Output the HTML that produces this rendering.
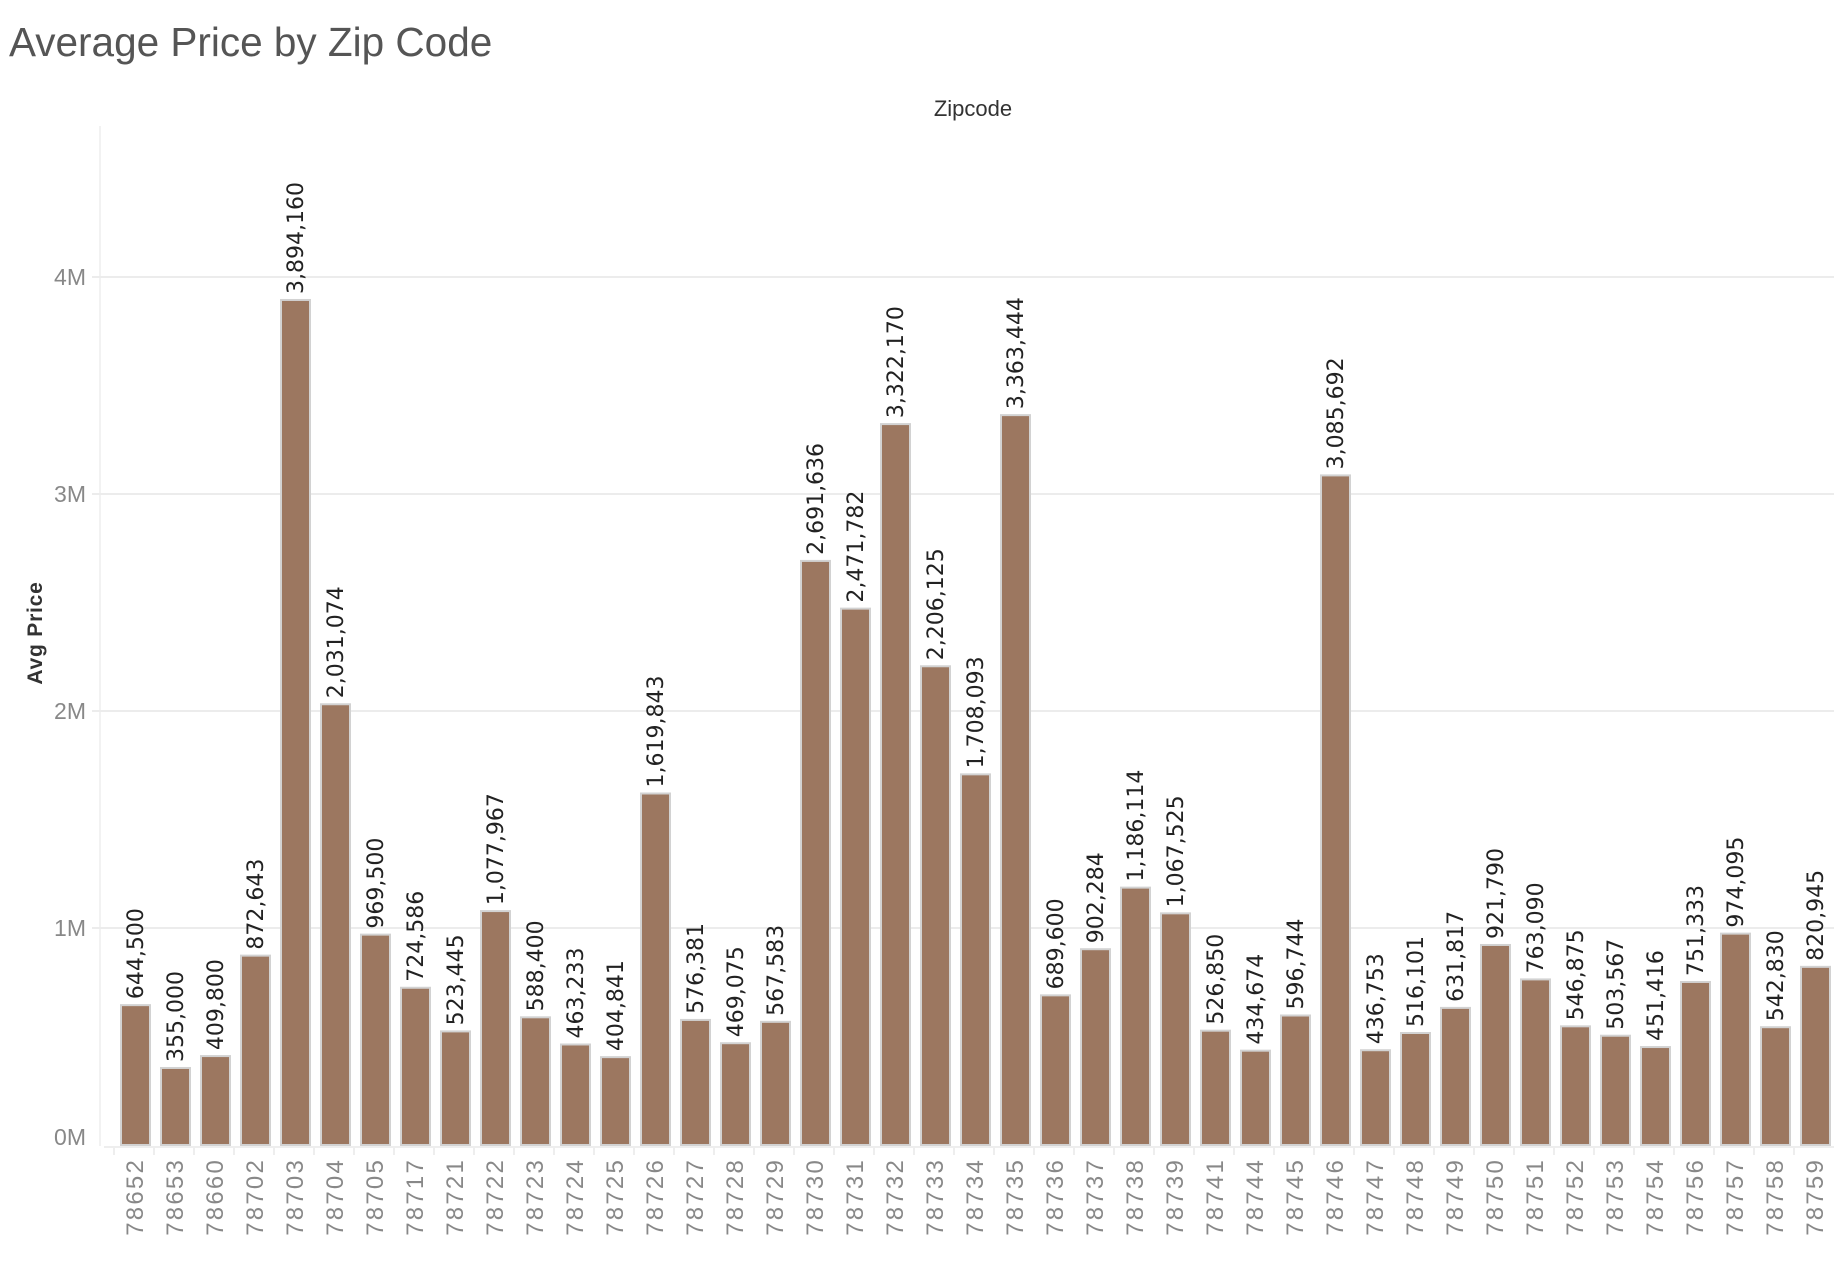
<!DOCTYPE html>
<html><head><meta charset="utf-8"><style>
html,body{margin:0;padding:0;background:#fff;}
svg{display:block;font-family:"Liberation Sans",sans-serif;}
</style></head><body>
<svg id="chart" width="1834" height="1266" viewBox="0 0 1834 1266">
<text x="9" y="56" font-size="40.5" fill="#555" font-weight="300">Average Price by Zip Code</text>
<text x="973" y="116" font-size="22" fill="#333" text-anchor="middle">Zipcode</text>
<text transform="translate(42,633) rotate(-90)" font-size="21" font-weight="bold" fill="#333" text-anchor="middle" letter-spacing="0.8">Avg Price</text>
<line x1="100" y1="126" x2="100" y2="1146" stroke="#eee" stroke-width="1.5"/>
<g id="grid"></g><g id="bars"></g><g id="xlabels"></g>
</svg>
<script>
const categories=["78652","78653","78660","78702","78703","78704","78705","78717","78721","78722","78723","78724","78725","78726","78727","78728","78729","78730","78731","78732","78733","78734","78735","78736","78737","78738","78739","78741","78744","78745","78746","78747","78748","78749","78750","78751","78752","78753","78754","78756","78757","78758","78759"];
const values=[644500,355000,409800,872643,3894160,2031074,969500,724586,523445,1077967,588400,463233,404841,1619843,576381,469075,567583,2691636,2471782,3322170,2206125,1708093,3363444,689600,902284,1186114,1067525,526850,434674,596744,3085692,436753,516101,631817,921790,763090,546875,503567,451416,751333,974095,542830,820945];
const tickValues=[0,1000000,2000000,3000000,4000000];
const tickLabels=["0M","1M","2M","3M","4M"];
const NS="http://www.w3.org/2000/svg";
const y0=1145, pxPerUnit=217/1000000, colStart=114, colW=40;
function yScale(v){return y0-v*pxPerUnit;}
function xScale(i){return colStart+i*colW;}
function mk(tag,attrs,parent){const e=document.createElementNS(NS,tag);for(const k in attrs)e.setAttribute(k,attrs[k]);parent.appendChild(e);return e;}
const grid=document.getElementById('grid'),bars=document.getElementById('bars'),xl=document.getElementById('xlabels');
tickValues.forEach((v,i)=>{
  const y=yScale(v);
  if(i>0){const g=mk('line',{x1:92,x2:1834,y1:y,y2:y,stroke:'#ececec','stroke-width':2},grid);
  
  }
  const t=mk('text',{x:86,y:(i===0?y-8:y)+8,'font-size':23,fill:'#888','text-anchor':'end'},grid);
  t.textContent=tickLabels[i];
  
  
});
const base=mk('line',{x1:104,x2:1834,y1:1147,y2:1147,stroke:'#eee','stroke-width':2},grid);


categories.forEach((c,i)=>{
  const x=xScale(i), v=values[i], top=yScale(v);
  const tk=mk('line',{x1:x,x2:x,y1:1147,y2:1155,stroke:'#eee','stroke-width':2},xl);
  
  
  const r=mk('rect',{x:x+7,y:top,width:29,height:y0-top,fill:'#9c7760',stroke:'#d2d2d2','stroke-width':2},bars);
  
  
  const lt=mk('text',{transform:`translate(${x+29},${top-6}) rotate(-90)`,'font-size':22,fill:'#222','font-family':'"DejaVu Sans",sans-serif'},bars);
  lt.textContent=v.toLocaleString('en-US');
  
  
  const zt=mk('text',{transform:`translate(${x+29},1158) rotate(-90)`,'font-size':24,fill:'#888','text-anchor':'end','letter-spacing':'2.2'},xl);
  zt.textContent=c;
  
  
});
</script>
</body></html>
